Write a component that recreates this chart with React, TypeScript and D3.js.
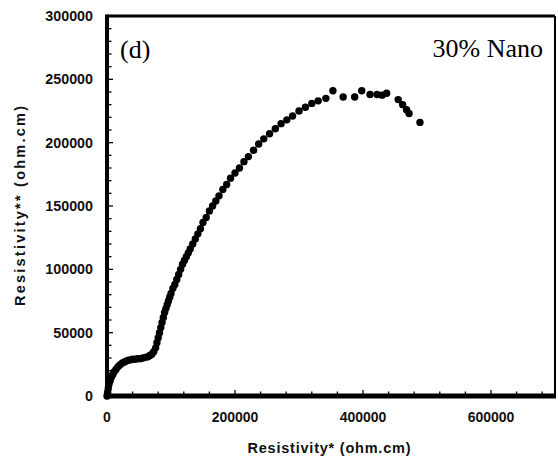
import React from "react";
import * as d3 from "d3";

// Data (values in ohm.cm)
const resistivityX: number[] = [
  0, 1000, 2000, 3000, 5000, 7000, 9000, 11000, 14000, 17000, 20000, 24000, 28000, 32000,
  36000, 40000, 44000, 48000, 52000, 56000, 60000, 64000, 67000, 70000, 73000, 76000, 78000,
  80000, 82000, 84000, 86000, 88000, 90000, 92000, 94000, 96000, 98000, 100000, 103000,
  106000, 109000, 112000, 115000, 118000, 121000, 124000, 127000, 130000, 134000, 138000,
  142000, 146000, 150000, 155000, 160000, 165000, 170000, 175000, 181000, 187000, 193000,
  200000, 207000, 214000, 221000, 229000, 237000, 245000, 254000, 263000, 272000, 281000,
  290000, 300000, 310000, 320000, 330000, 342000, 353000, 369000, 387000, 398000, 411000,
  422000, 430000, 437000, 455000, 462000, 468000, 472000, 489000,
];
const resistivityY: number[] = [
  0, 3000, 6000, 9000, 12000, 15000, 17000, 19000, 21000, 23000, 24500, 26000, 27000, 28000,
  28500, 29000, 29000, 29500, 29500, 30000, 30500, 31000, 32000, 33000, 35000, 38000, 42000,
  46000, 50000, 54000, 58000, 62000, 66000, 69000, 72000, 75000, 78000, 81000, 85000,
  88000, 92000, 96000, 100000, 104000, 107000, 110000, 113000, 116000, 120000, 124000,
  128000, 132000, 137000, 141000, 146000, 150000, 154000, 158000, 163000, 167000, 172000,
  176000, 180000, 185000, 189000, 194000, 199000, 203000, 207000, 211000, 215000, 218000,
  221000, 225000, 228000, 231000, 233000, 235000, 241000, 236000, 236000, 241000, 238000,
  238000, 237500, 239000, 234000, 230000, 226000, 223000, 216000,
];
const xTickLabels: number[] = [0, 200000, 400000, 600000];
const yTickLabels: number[] = [0, 50000, 100000, 150000, 200000, 250000, 300000];
const xTitle = "Resistivity* (ohm.cm)";
const yTitle = "Resistivity** (ohm.cm)";
const panelLabel = "(d)";
const seriesLabel = "30% Nano";

const W = 558;
const H = 462;
const left = 107;
const right = 555;
const top = 16;
const bottom = 396;

export default function App() {
  const x = d3.scaleLinear().domain([0, 700000]).range([left, right]);
  const y = d3.scaleLinear().domain([0, 300000]).range([bottom, top]);
  const xMinor = d3.range(0, 700001, 40000);
  const yMinor = d3.range(0, 300001, 10000);
  const pts = resistivityX.map((v, i) => [v, resistivityY[i]] as [number, number]);
  const tickFont = "'Liberation Sans', Arial, sans-serif";
  const serif = "'Liberation Serif', 'Times New Roman', serif";

  return (
    <svg
      width={W}
      height={H}
      style={{ position: "absolute", left: 0, top: 0, background: "#fff" }}
    >
      <rect x={0} y={0} width={W} height={H} fill="#fff" />
      {/* minor ticks */}
      {xMinor.map((v) => (
        <line
          key={"xm" + v}
          x1={x(v)}
          x2={x(v)}
          y1={bottom}
          y2={bottom - (v % 200000 === 0 ? 6 : 4.5)}
          stroke="#000"
          strokeWidth={1.3}
        />
      ))}
      {yMinor.map((v) => (
        <line
          key={"ym" + v}
          x1={left}
          x2={left + (v % 50000 === 0 ? 6 : 4.5)}
          y1={y(v)}
          y2={y(v)}
          stroke="#000"
          strokeWidth={1.3}
        />
      ))}
      {/* frame */}
      <line x1={left} x2={right} y1={top} y2={top} stroke="#000" strokeWidth={3} />
      <line x1={right} x2={right} y1={top} y2={bottom} stroke="#000" strokeWidth={2} />
      <line x1={left} x2={left} y1={top - 1.5} y2={bottom + 2} stroke="#000" strokeWidth={4} />
      <line x1={left - 2} x2={right + 1} y1={bottom} y2={bottom} stroke="#000" strokeWidth={5} />

      {/* tick labels */}
      {xTickLabels.map((v) => (
        <text
          key={"xl" + v}
          x={x(v)}
          y={422}
          textAnchor="middle"
          fontFamily={tickFont}
          fontWeight="bold"
          fontSize={14}
          fill="#111"
        >
          {v}
        </text>
      ))}
      {yTickLabels.map((v) => (
        <text
          key={"yl" + v}
          x={93}
          y={y(v) + 5}
          textAnchor="end"
          fontFamily={tickFont}
          fontWeight="bold"
          fontSize={14.3}
          fill="#111"
        >
          {v}
        </text>
      ))}

      {/* axis titles */}
      <text
        x={(left + right) / 2 - 2}
        y={453}
        textAnchor="middle"
        fontFamily={tickFont}
        fontWeight="bold"
        fontSize={14.5}
        textLength={163}
        lengthAdjust="spacing"
        fill="#111"
      >
        {xTitle}
      </text>
      <text
        transform={`translate(25, ${(top + bottom) / 2}) rotate(-90)`}
        textAnchor="middle"
        fontFamily={tickFont}
        fontWeight="bold"
        fontSize={14.5}
        textLength={200}
        lengthAdjust="spacing"
        fill="#111"
      >
        {yTitle}
      </text>

      {/* panel texts */}
      <text x={120} y={58} fontFamily={serif} fontSize={26} fill="#000">
        {panelLabel}
      </text>
      <text x={543} y={57} textAnchor="end" fontFamily={serif} fontSize={26} fill="#000">
        {seriesLabel}
      </text>

      {/* data markers */}
      {pts.map((p, i) => (
        <circle key={"p" + i} cx={x(p[0])} cy={y(p[1])} r={3.7} fill="#000" />
      ))}
    </svg>
  );
}
